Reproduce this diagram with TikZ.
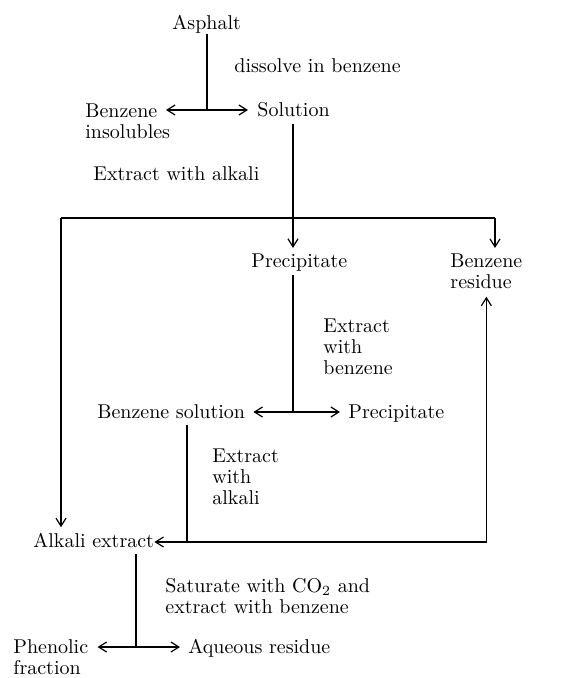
\documentclass[tikz,border=0pt]{standalone}
\usetikzlibrary{arrows.meta}
\begin{document}
\begin{tikzpicture}[x=0.5pt,y=-0.5pt,
  lbl/.style={inner sep=0pt, font=\fontsize{10}{10.5}\selectfont, anchor=base west},
  mlbl/.style={inner sep=0pt, font=\fontsize{10}{10.5}\selectfont, align=left, anchor=north west},
  ln/.style={line width=0.6pt},
  arr/.style={ln, -{Straight Barb[length=4pt,width=5pt]}}]
\useasboundingbox (0,0) rectangle (579,678);
% labels
\node[lbl] (asph) at (172,30) {Asphalt};
\node[lbl] (diss) at (234,73) {dissolve in benzene};
\node[mlbl] (insol) at (85,103) {Benzene\\insolubles};
\node[lbl] (sol) at (257,117) {Solution};
\node[lbl] (ewa) at (93,181) {Extract with alkali};
\node[lbl] (prec1) at (251,267) {Precipitate};
\node[mlbl] (bres) at (450,253) {Benzene\\residue};
\node[mlbl] (ewb) at (323,318) {Extract\\with\\benzene};
\node[lbl] (bsol) at (97,418) {Benzene solution};
\node[lbl] (prec2) at (348,418) {Precipitate};
\node[mlbl] (ewal) at (212,448) {Extract\\with\\alkali};
\node[lbl] (alk) at (33,547) {Alkali extract};
\node[mlbl] (sat) at (165,578) {Saturate with CO$_2$ and\\extract with benzene};
\node[mlbl] (phen) at (13,639) {Phenolic\\fraction};
\node[lbl] (aq) at (188,653) {Aqueous residue};
% junctions
\coordinate (j1) at (207,110);
\coordinate (tA) at (166,110);
\coordinate (cL) at (61,218);
\coordinate (cR) at (495,218);
\coordinate (j2) at (293,218);
\coordinate (j3) at (293,412);
\coordinate (j4) at (187,542);
\coordinate (j5) at (136,647);
% step 1
\draw[ln] (asph.south -| j1) -- (j1);
\draw[arr] (j1) -- (tA);
\draw[arr, shorten >=4.5pt] (j1) -- (j1 -| sol.west);
% step 2
\draw[ln, shorten <=3pt] (j2 |- sol.south) -- (j2);
\draw[ln] (cL) -- (cR);
\draw[arr, shorten >=2.5pt] (cL) -- (cL |- alk.north);
\draw[arr, shorten >=2.5pt] (j2) -- (j2 |- prec1.north);
\draw[arr, shorten >=2.5pt] (cR) -- (cR |- bres.north);
% step 3
\draw[ln, shorten <=2pt] (j3 |- prec1.south) -- (j3);
\draw[arr, shorten >=4pt] (j3) -- (j3 -| bsol.east);
\draw[arr, shorten >=4pt] (j3) -- (j3 -| prec2.west);
% step 4
\draw[ln, shorten <=3pt] (j4 |- bsol.south) -- (j4);
\draw[arr] (j4) -- (j4 -| alk.east);
\draw[arr, shorten >=4pt] (j4) -| (bres.south);
% step 5
\draw[ln, shorten <=3pt] (j5 |- alk.south) -- (j5);
\draw[arr, shorten >=4.5pt] (j5) -- (j5 -| phen.east);
\draw[arr, shorten >=4pt] (j5) -- (j5 -| aq.west);
\end{tikzpicture}
\end{document}
